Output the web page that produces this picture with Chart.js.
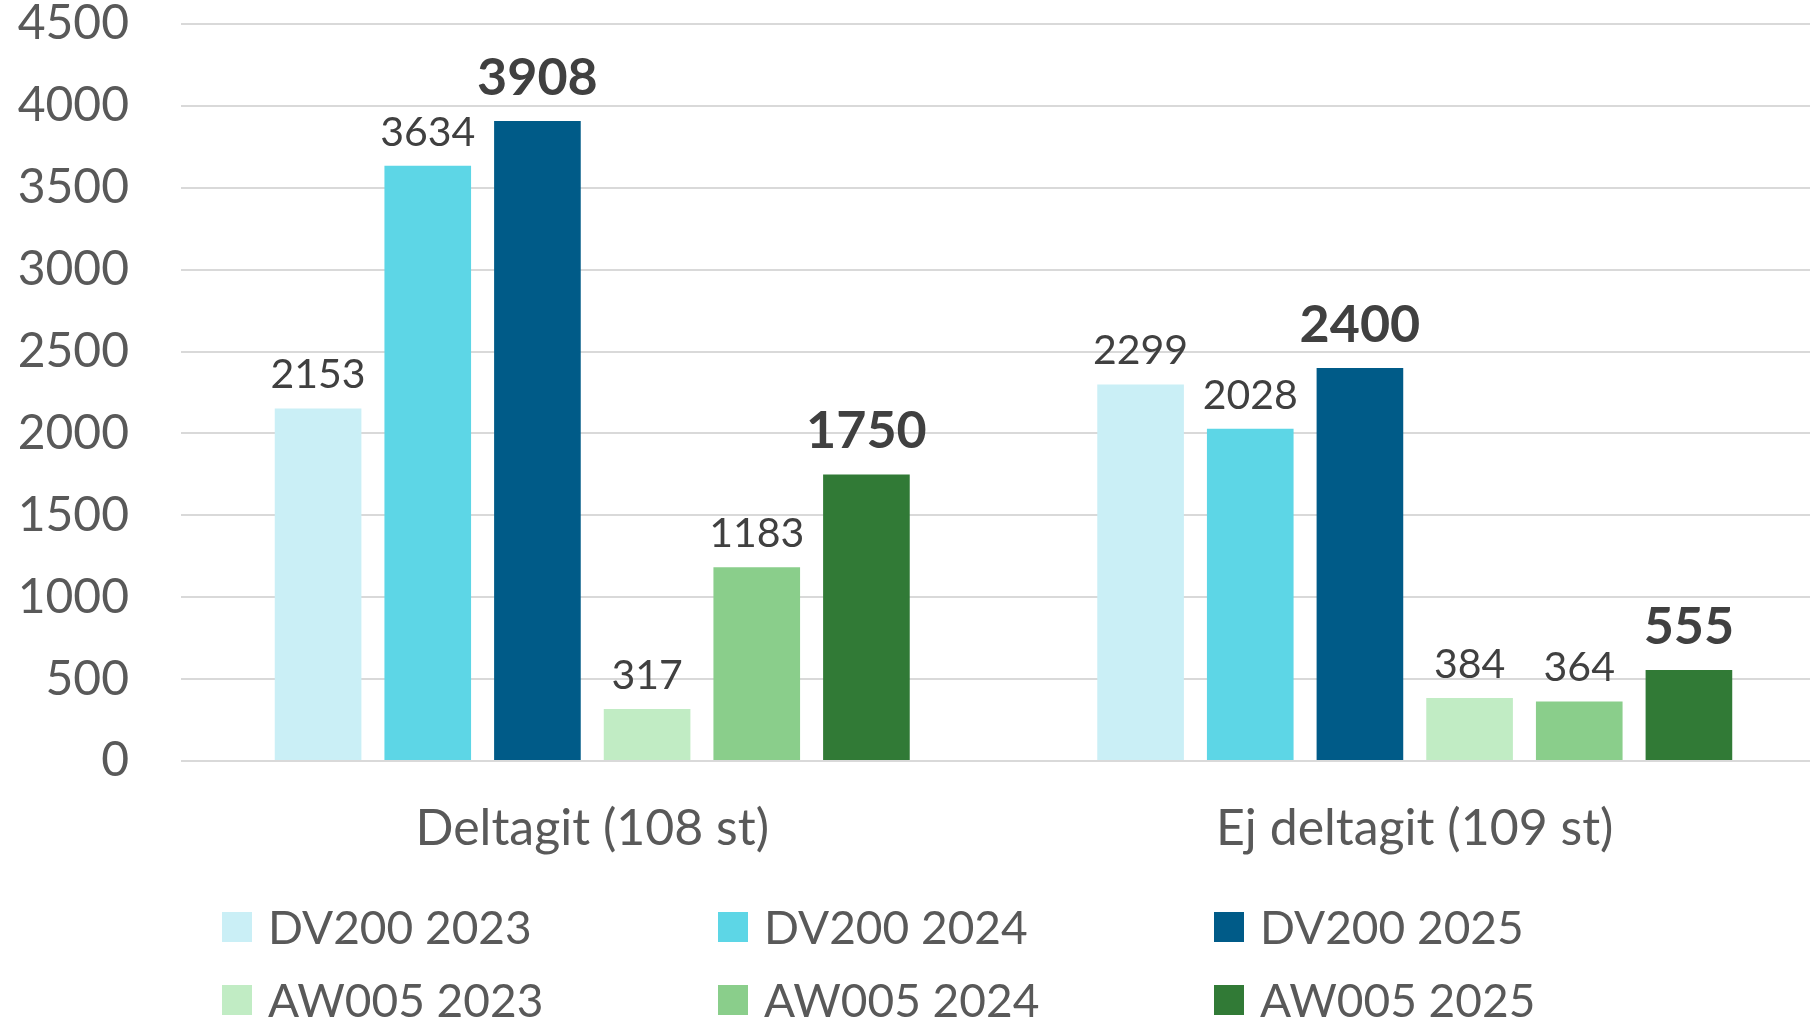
<!DOCTYPE html>
<html>
<head>
<meta charset="utf-8">
<script src="https://cdn.jsdelivr.net/npm/chart.js@4.4.1/dist/chart.umd.min.js"></script>
<style>
  html, body { margin: 0; padding: 0; background: #fff; overflow: hidden; }
  #wrap { width: 1810px; height: 1028px; overflow: hidden; }
</style>
</head>
<body>
<div id="wrap"><canvas id="myChart" width="1826" height="1028"></canvas></div>
<script>
// Categories on the x axis
const categories = ['Deltagit (108 st)', 'Ej deltagit (109 st)'];
// Series names and values, one per dataset
const seriesNames = ['DV200 2023', 'DV200 2024', 'DV200 2025', 'AW005 2023', 'AW005 2024', 'AW005 2025'];
const dv2023 = [2153, 2299];
const dv2024 = [3634, 2028];
const dv2025 = [3908, 2400];
const aw2023 = [317, 384];
const aw2024 = [1183, 364];
const aw2025 = [1750, 555];
const seriesValues = [dv2023, dv2024, dv2025, aw2023, aw2024, aw2025];
const seriesColors = ['#caeff6', '#5dd6e6', '#005b88', '#c1ecc4', '#8ace8b', '#317a36'];
// 2025 values are shown in bold
const boldLabel = [false, false, true, false, false, true];
// y axis ticks
const yMin = 0, yMax = 4500, yStep = 500;

const FONT = 'Lato, "Open Sans", sans-serif';

// Draw value above each bar
const valueLabels = {
    id: 'valueLabels',
    afterDatasetsDraw(chart) {
        const ctx = chart.ctx;
        ctx.save();
        ctx.fillStyle = '#404040';
        ctx.textAlign = 'center';
        ctx.textBaseline = 'alphabetic';
        chart.data.datasets.forEach(function(ds, i) {
            const meta = chart.getDatasetMeta(i);
            meta.data.forEach(function(bar, j) {
                if (boldLabel[i]) {
                    ctx.font = 'bold 52px ' + FONT;
                    ctx.fillText(String(ds.data[j]), bar.x, bar.y - 26);
                } else {
                    ctx.font = '41px ' + FONT;
                    ctx.fillText(String(ds.data[j]), bar.x, bar.y - 20);
                }
            });
        });
        ctx.restore();
    }
};

// Legend in a 3 column grid under the chart
const gridLegend = {
    id: 'gridLegend',
    afterDraw(chart) {
        const ctx = chart.ctx;
        const colX = [222, 718, 1214];
        const rowY = [927, 1000];
        ctx.save();
        ctx.font = '46px ' + FONT;
        ctx.textBaseline = 'middle';
        ctx.textAlign = 'left';
        chart.data.datasets.forEach(function(ds, i) {
            const x = colX[i % 3];
            const y = rowY[Math.floor(i / 3)];
            ctx.fillStyle = ds.backgroundColor;
            ctx.fillRect(x, y - 15, 30, 30);
            ctx.fillStyle = '#595959';
            ctx.fillText(ds.label, x + 46, y + 2);
        });
        ctx.restore();
    }
};

function renderChart() {
    const ctx = document.getElementById('myChart').getContext('2d');
    const datasets = seriesNames.map(function(name, i) {
        return {
            label: name,
            data: seriesValues[i],
            backgroundColor: seriesColors[i],
            categoryPercentage: 0.8,
            barPercentage: 0.79
        };
    });
    new Chart(ctx, {
        type: 'bar',
        data: { labels: categories, datasets: datasets },
        plugins: [valueLabels, gridLegend],
        options: {
            responsive: false,
            animation: false,
            devicePixelRatio: 1,
            layout: { padding: { top: 24, left: 0, right: 0, bottom: 0 } },
            plugins: {
                legend: { display: false },
                tooltip: { enabled: false },
                title: { display: false }
            },
            scales: {
                x: {
                    grid: { display: false, drawTicks: false },
                    border: { display: false },
                    ticks: {
                        color: '#595959',
                        font: { family: FONT, size: 50 },
                        padding: 38
                    },
                    afterFit: function(scale) { scale.height = 267; }
                },
                y: {
                    min: yMin,
                    max: yMax,
                    // invisible tick marks keep the labels away from the plot
                    grid: { color: '#d9d9d9', lineWidth: 2, drawTicks: true, tickLength: 52, tickColor: 'rgba(0,0,0,0)' },
                    border: { display: false },
                    ticks: {
                        stepSize: yStep,
                        color: '#595959',
                        font: { family: FONT, size: 48, lineHeight: 1 },
                        padding: 0,
                        callback: function(v) { return String(v); }
                    },
                    afterFit: function(scale) { scale.width = 181; }
                }
            }
        }
    });
}
renderChart();
</script>
</body>
</html>
